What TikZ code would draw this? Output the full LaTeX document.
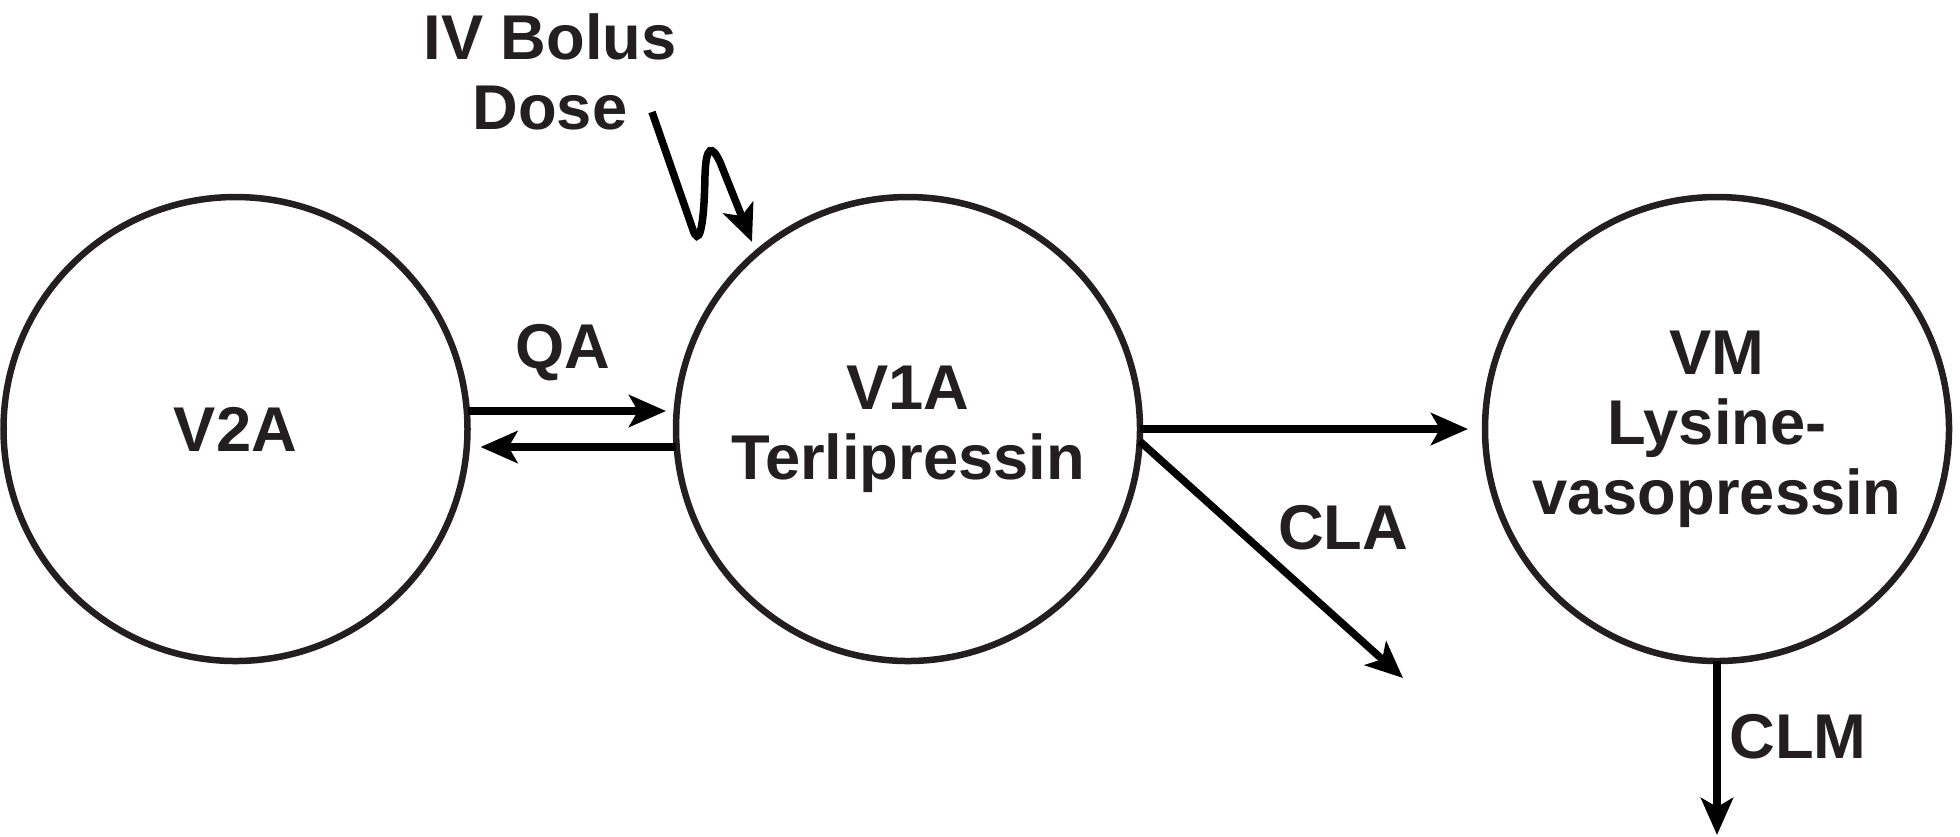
\documentclass[tikz,border=0pt]{standalone}
\usepackage{fontspec}
\setmainfont{Liberation Sans}
\usetikzlibrary{arrows.meta}
\definecolor{ink}{RGB}{35,31,32}

\begin{document}
\begin{tikzpicture}[every node/.style={font=\fontsize{18}{19.9}\selectfont\bfseries, text=ink, align=center},
  comp/.style={draw=ink, circle, line width=0.065cm, minimum size=4.64cm, inner sep=0pt, outer sep=0pt},
  flow/.style={-{Stealth[length=0.37cm,width=0.32cm,inset=0.09cm]}, line width=0.075cm}]
\useasboundingbox (0,0) rectangle (19.6,-8.36);

% compartments
\node [comp] (v2a) at (2.355,-4.29) {V2A};
\node [comp] (v1a) at (9.08,-4.29) {V1A\\Terlipressin};
\node [comp] (vm) at (17.17,-4.29) {VM\\Lysine-\\vasopressin};

% exchange V2A <-> V1A
\draw [flow, shorten >=0.1cm] ([yshift=0.18cm]v2a.east) -- ([yshift=0.18cm]v1a.west);
\draw [flow, shorten >=0.13cm] ([yshift=-0.18cm]v1a.west) -- ([yshift=-0.18cm]v2a.east);
\node (qa) at (5.63,-3.53) {QA};

% conversion and clearances
\draw [flow, shorten >=0.17cm] (v1a.east) -- (vm.west);
\coordinate (claend) at (14.03,-6.78);
\draw [flow] (v1a.-3.5) -- (claend);
\node (cla) at (13.43,-5.28) {CLA};
\coordinate (clmend) at (17.17,-8.35);
\draw [flow] (vm.south) -- (clmend);
\node (clm) at (17.98,-7.37) {CLM};

% bolus input
\node (dose) at (5.50,-0.72) {IV Bolus\\Dose};
\coordinate (iv) at (6.52,-1.12);
\draw [flow] (iv) -- (6.93,-2.30) .. controls (6.98,-2.45) and (7.04,-2.35) .. (7.05,-1.75)
  .. controls (7.06,-1.45) and (7.12,-1.45) .. (7.20,-1.62) -- (7.52,-2.42);
\end{tikzpicture}
\end{document}
